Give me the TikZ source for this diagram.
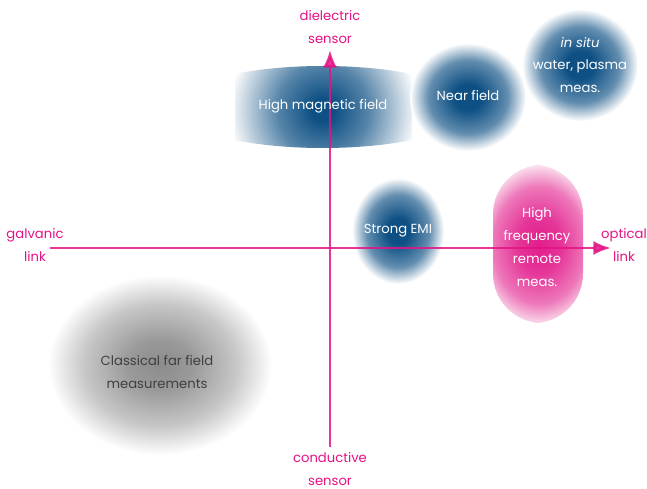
\documentclass[tikz,border=0pt]{standalone}
\usepackage{fontspec}
\setmainfont{Poppins}
\usetikzlibrary{arrows.meta}
\definecolor{axispink}{RGB}{228,18,132}
\definecolor{blobblue}{RGB}{14,80,132}
\definecolor{blobpink}{RGB}{226,30,140}
\definecolor{textgrey}{RGB}{64,64,64}
\pgfdeclareradialshading{blueglow}{\pgfpoint{0bp}{0bp}}{color(0bp)=(blobblue);
  color(6bp)=(blobblue); color(17bp)=(blobblue!65); color(25bp)=(white); color(50bp)=(white)}
\pgfdeclareradialshading{wideglow}{\pgfpoint{0bp}{0bp}}{color(0bp)=(blobblue);
  color(3bp)=(blobblue); color(12bp)=(blobblue!70); color(25bp)=(white); color(50bp)=(white)}
\pgfdeclareradialshading{pinkglow}{\pgfpoint{0bp}{0bp}}{color(0bp)=(blobpink);
  color(8bp)=(blobpink!90); color(17bp)=(blobpink!60); color(25bp)=(white); color(50bp)=(white)}
\pgfdeclareradialshading{greyglow}{\pgfpoint{0bp}{0bp}}{color(0bp)=(black!45);
  color(7bp)=(black!40); color(17bp)=(black!22); color(25bp)=(white); color(50bp)=(white)}
\begin{document}
\begin{tikzpicture}[x=0.02cm,y=-0.02cm,
  axislabel/.style={text=axispink,align=center,font=\fontsize{7.5}{13}\selectfont},
  blobtext/.style={text=white,align=center,font=\fontsize{7.5}{13}\selectfont},
  blueblob/.style={shading=blueglow},
  axisline/.style={draw=axispink,line width=1.5pt,opacity=0.85}]
\useasboundingbox (0,0) rectangle (647,489);
\begin{scope}
\clip (235,60) rectangle (412,155);
\clip (323,107) ellipse [x radius=150, y radius=41];
\shade[shading=wideglow] (323,110) ellipse [x radius=95, y radius=95];
\end{scope}
\shade[blueblob] (468,97) ellipse [x radius=58, y radius=54];
\shade[blueblob] (580,65) ellipse [x radius=58, y radius=56];
\shade[blueblob] (398,231) ellipse [x radius=46, y radius=53];
\begin{scope}
\clip[rounded corners=28] (493,165) rectangle (583,323);
\shade[shading=pinkglow] (539,245) ellipse [x radius=68, y radius=86];
\end{scope}
\shade[shading=greyglow] (160,365) ellipse [x radius=112, y radius=90];
\coordinate (west) at (50,248);
\coordinate (east) at (611,248);
\coordinate (south) at (330,447);
\coordinate (north) at (330,50);
\draw[axisline,-{Latex[length=10pt,width=8pt]}] (west) -- (east);
\draw[axisline,-{Latex[length=10pt,width=8pt]}] (south) -- (north);
\node[axislabel] (dielectric) at (330,27) {dielectric\\sensor};
\node[axislabel] (conductive) at (330,469) {conductive\\sensor};
\node[axislabel] (galvanic) at (35,245) {galvanic\\link};
\node[axislabel] (optical) at (624,245) {optical\\link};
\node[blobtext] (magnetic) at (323,106) {High magnetic field};
\node[blobtext] (near) at (468,96) {Near field};
\node[blobtext] (insitu) at (580,65) {\textit{in situ}\\water, plasma\\meas.};
\node[blobtext] (emi) at (398,231) {Strong EMI};
\node[blobtext] (highfreq) at (537,247) {High\\frequency\\remote\\meas.};
\node[blobtext,text=textgrey] (classical) at (157,372) {Classical far field\\measurements};
\end{tikzpicture}
\end{document}
